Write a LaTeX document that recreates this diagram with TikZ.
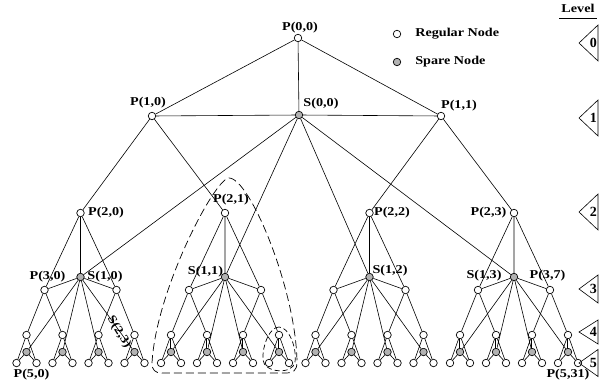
\documentclass[tikz,border=0pt]{standalone}
\usepackage{fontspec}
\setmainfont{Liberation Serif}[FakeStretch=1.18]
\newfontfamily\digitfont{Liberation Serif}
\definecolor{sparegray}{RGB}{178,178,178}
\begin{document}
\begin{tikzpicture}[
            x=1pt, y=-1pt,
            line width=0.6pt,
            every node/.style={inner sep=0pt},
            reg/.style={circle, draw, fill=white, minimum size=7.5pt, line width=0.7pt},
            spare/.style={reg, fill=sparegray},
            lbl/.style={font=\fontsize{12}{14}\selectfont\bfseries},
            lvnum/.style={font=\digitfont\fontsize{14}{16}\selectfont\bfseries},
            region/.style={dash pattern=on 8pt off 4pt, line width=0.7pt},
            ]
            \useasboundingbox (0,0) rectangle (611,390);
            \node[reg] (p00) at (298,38) {};
            \node[spare] (s00) at (299,115) {};
            \node[reg] (p10) at (152,116) {};
            \node[reg] (p11) at (441,116) {};
            \foreach \g in {0,...,3} {
              \pgfmathsetmacro{\cx}{80.5+144.5*\g}
              \pgfmathtruncatemacro{\l}{2*\g}
              \pgfmathtruncatemacro{\r}{2*\g+1}
              \node[reg] (p2-\g) at (\cx,213) {};
              \node[spare] (s1-\g) at (\cx,277) {};
              \node[reg] (p3-\l) at (\cx-36,290) {};
              \node[reg] (p3-\r) at (\cx+36,290) {};
              \draw (p2-\g) -- (p3-\l) (p2-\g) -- (s1-\g) (p2-\g) -- (p3-\r)
                (s1-\g) -- (p3-\l) (s1-\g) -- (p3-\r) (s00) -- (s1-\g);
            }
            \foreach \k in {0,...,15} {
              \pgfmathsetmacro{\kx}{80.5+144.5*int(\k/4)-54+36*mod(\k,4)}
              \pgfmathtruncatemacro{\g}{\k/4}
              \pgfmathtruncatemacro{\m}{\k/2}
              \pgfmathtruncatemacro{\l}{2*\k}
              \pgfmathtruncatemacro{\r}{2*\k+1}
              \node[reg] (p4-\k) at (\kx,335) {};
              \node[spare] (s2-\k) at (\kx,352) {};
              \node[reg] (p5-\l) at (\kx-10,363) {};
              \node[reg] (p5-\r) at (\kx+10,363) {};
              \draw (p3-\m) -- (p4-\k) (s1-\g) -- (s2-\k)
                (p4-\k) -- (p5-\l) (p4-\k) -- (p5-\r)
                (s2-\k) -- (p5-\l) (s2-\k) -- (p5-\r);
              \draw[double, double distance=0.8pt, line width=0.45pt] (p4-\k) -- (s2-\k);
            }
            \draw (p00) -- (p10) (p00) -- (s00) (p00) -- (p11)
              (p10) -- (s00) -- (p11)
              (p10) -- (p2-0) (p10) -- (p2-1) (p11) -- (p2-2) (p11) -- (p2-3);

            \node[lbl] (lp00) at (300,27.5) {P(0,0)};
            \node[lbl] (lp10) at (148,103) {P(1,0)};
            \node[lbl] (ls00) at (321,104) {S(0,0)};
            \node[lbl] (lp11) at (459,106) {P(1,1)};
            \node[lbl] (lp20) at (106,213) {P(2,0)};
            \node[lbl] (lp21) at (231,200) {P(2,1)};
            \node[lbl] (lp22) at (392,213) {P(2,2)};
            \node[lbl] (lp23) at (488.5,213) {P(2,3)};
            \node[lbl] (lp30) at (47.5,277) {P(3,0)};
            \node[lbl] (ls10) at (105,277) {S(1,0)};
            \node[lbl] (ls11) at (205.5,271.5) {S(1,1)};
            \node[lbl] (ls12) at (390,271) {S(1,2)};
            \node[lbl] (ls13) at (484,276) {S(1,3)};
            \node[lbl] (lp37) at (547.5,276) {P(3,7)};
            \node[lbl] (lp50) at (31.5,375) {P(5,0)};
            \node[lbl] (lp531) at (568,375) {P(5,31)};
            \node[lbl, rotate=-58] (ls23) at (119,332) {S(2,3)};

            \draw[region] (152,363) .. controls (156,290) and (215,178) .. (229,178)
              .. controls (250,178) and (296,290) .. (297,362)
              .. controls (297,371) and (293,373) .. (285,373) -- (162,373)
              .. controls (155,373) and (152,370) .. (152,363);
            \draw[region, dash pattern=on 5pt off 3pt] (279,327) .. controls (270,327) and (262,345) .. (263,360)
              .. controls (264,373) and (293,375) .. (295,362)
              .. controls (297,348) and (289,327) .. (279,327);

            \node[reg] (kreg) at (397,34) {};
            \node[lbl, anchor=west] (kregtxt) at (415,34) {Regular Node};
            \node[spare] (kspare) at (397,62) {};
            \node[lbl, anchor=west] (ksparetxt) at (415,62) {Spare Node};

            \node[lbl] (lvl) at (578,8) {Level};
            \draw (559,18) -- (597,18);
            \foreach \lv/\ty/\h in {0/43/18, 1/118/18, 2/212/18, 3/289/14, 4/332/12, 5/363/13.5} {
              \draw (579,\ty) -- (598,\ty-\h) -- (598,\ty+\h) -- cycle;
              \node[lvnum] (lv\lv) at (593.3,\ty) {\lv};
            }
            \end{tikzpicture}
\end{document}
